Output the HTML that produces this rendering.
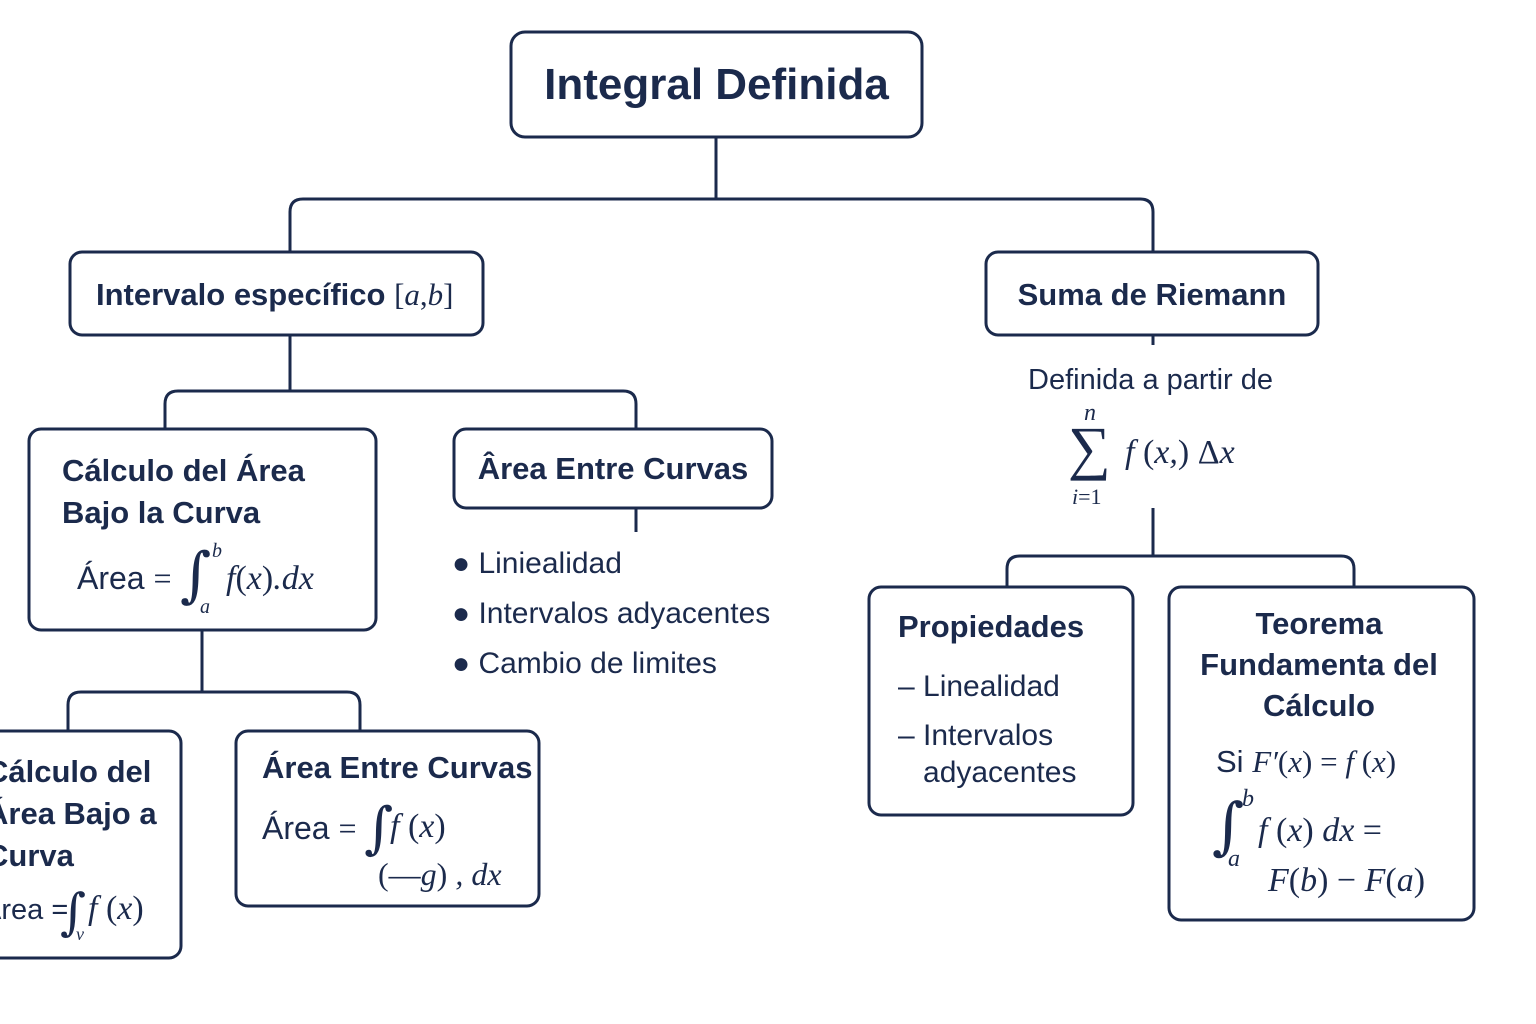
<!DOCTYPE html>
<html><head><meta charset="utf-8"><style>
html,body{margin:0;padding:0;background:#fff;}
body{width:1536px;height:1024px;position:relative;overflow:hidden;font-family:"Liberation Sans",sans-serif;color:#1b2a4c;}
.t{position:absolute;white-space:nowrap;}
.b{font-weight:bold;}
.m{font-family:"Liberation Serif",serif;font-style:italic;}
.r{font-family:"Liberation Serif",serif;}
.i{position:absolute;font-family:"DejaVu Serif",serif;}
</style></head><body>
<svg width="1536" height="1024" style="position:absolute;left:0;top:0" fill="none" stroke="#1b2a4c" stroke-width="3">
<rect x="511" y="32" width="411" height="105" rx="14"/>
<rect x="70" y="252" width="413" height="83" rx="12"/>
<rect x="986" y="252" width="332" height="83" rx="12"/>
<rect x="29" y="429" width="347" height="201" rx="12"/>
<rect x="454" y="429" width="318" height="79" rx="12"/>
<rect x="869" y="587" width="264" height="228" rx="12"/>
<rect x="1169" y="587" width="305" height="333" rx="12"/>
<rect x="-20" y="731" width="201" height="227" rx="12"/>
<rect x="236" y="731" width="303" height="175" rx="12"/>
<path d="M716 137V199M290 252V212Q290 199 303 199H1140Q1153 199 1153 212V252"/>
<path d="M290 335V391M165 429V404Q165 391 178 391H623Q636 391 636 404V429"/>
<path d="M636 508V532M1153 335V345"/>
<path d="M1153 508V556M1007 587V569Q1007 556 1020 556H1341Q1354 556 1354 569V587"/>
<path d="M202 630V692M68 731V705Q68 692 81 692H347Q360 692 360 705V731"/>
</svg>
<div class="t b" style="left:511px;width:411px;text-align:center;top:60px;font-size:44px;">Integral Definida</div>
<div class="t b" style="left:96px;top:277px;font-size:31px;">Intervalo específico <span class="r" style="font-weight:normal">[<i>a</i>,<i>b</i>]</span></div>
<div class="t b" style="left:986px;width:332px;text-align:center;top:277px;font-size:31px;">Suma de Riemann</div>
<div class="t" style="left:1028px;top:364px;font-size:29px;">Definida a partir de</div>
<div class="t r" style="left:1068px;top:418px;font-size:60px;line-height:60px;">∑</div>
<div class="t m" style="left:1084px;top:400px;font-size:24px;">n</div>
<div class="t m" style="left:1072px;top:484px;font-size:22px;">i<span style="font-style:normal">=1</span></div>
<div class="t m" style="left:1125px;top:434px;font-size:34px;">f <span style="font-style:normal">(</span>x,<span style="font-style:normal">) Δ</span>x</div>
<div class="t b" style="left:62px;top:450px;font-size:31px;line-height:42px;">Cálculo del Área<br>Bajo la Curva</div>
<div class="t" style="left:77px;top:560px;font-size:32px;">Área <span class="r">=</span></div>
<div class="i" style="left:180px;top:540px;font-size:60px;line-height:70px;">∫</div>
<div class="t m" style="left:212px;top:540px;font-size:20px;">b</div>
<div class="t m" style="left:200px;top:596px;font-size:20px;">a</div>
<div class="t m" style="left:226px;top:560px;font-size:34px;">f<span style="font-style:normal">(</span>x<span style="font-style:normal">)</span>.dx</div>
<div class="t b" style="left:454px;width:318px;text-align:center;top:451px;font-size:31px;">Ârea Entre Curvas</div>
<div class="t" style="left:452px;top:539px;font-size:30px;line-height:50px;">● Liniealidad<br>● Intervalos adyacentes<br>● Cambio de limites</div>
<div class="t b" style="left:898px;top:609px;font-size:31px;">Propiedades</div>
<div class="t" style="left:898px;top:668px;font-size:30px;line-height:37px;">– Linealidad</div>
<div class="t" style="left:898px;top:717px;font-size:30px;line-height:37px;">– Intervalos<br>&nbsp;&nbsp;&nbsp;adyacentes</div>
<div class="t b" style="left:1169px;width:300px;text-align:center;top:603px;font-size:31px;line-height:41px;">Teorema<br>Fundamenta del<br>Cálculo</div>
<div class="t" style="left:1216px;top:744px;font-size:31px;">Si <span class="m">F′<span style="font-style:normal">(</span>x<span style="font-style:normal">) = </span>f <span style="font-style:normal">(</span>x<span style="font-style:normal">)</span></span></div>
<div class="i" style="left:1212px;top:790px;font-size:62px;line-height:72px;">∫</div>
<div class="t m" style="left:1242px;top:786px;font-size:24px;">b</div>
<div class="t m" style="left:1228px;top:846px;font-size:24px;">a</div>
<div class="t m" style="left:1258px;top:812px;font-size:34px;">f <span style="font-style:normal">(</span>x<span style="font-style:normal">)</span> dx <span style="font-style:normal">=</span></div>
<div class="t m" style="left:1268px;top:862px;font-size:34px;">F<span style="font-style:normal">(</span>b<span style="font-style:normal">) − </span>F<span style="font-style:normal">(</span>a<span style="font-style:normal">)</span></div>
<div class="t b" style="left:-14px;top:751px;font-size:31px;line-height:42px;">Cálculo del<br>Área Bajo a<br>Curva</div>
<div class="t" style="left:-18px;top:894px;font-size:29px;">Área =</div>
<div class="i" style="left:60px;top:882px;font-size:50px;line-height:60px;">∫</div>
<div class="t m" style="left:76px;top:924px;font-size:18px;">v</div>
<div class="t m" style="left:88px;top:890px;font-size:34px;">f <span style="font-style:normal">(</span>x<span style="font-style:normal">)</span></div>
<div class="t b" style="left:262px;top:750px;font-size:31px;">Área Entre Curvas</div>
<div class="t" style="left:262px;top:810px;font-size:32px;">Área <span class="r">=</span></div>
<div class="i" style="left:364px;top:796px;font-size:56px;line-height:66px;">∫</div>
<div class="t m" style="left:390px;top:808px;font-size:34px;">f <span style="font-style:normal">(</span>x<span style="font-style:normal">)</span></div>
<div class="t m" style="left:378px;top:856px;font-size:32px;"><span style="font-style:normal">(—</span>g<span style="font-style:normal">)</span> , dx</div>
</body></html>
